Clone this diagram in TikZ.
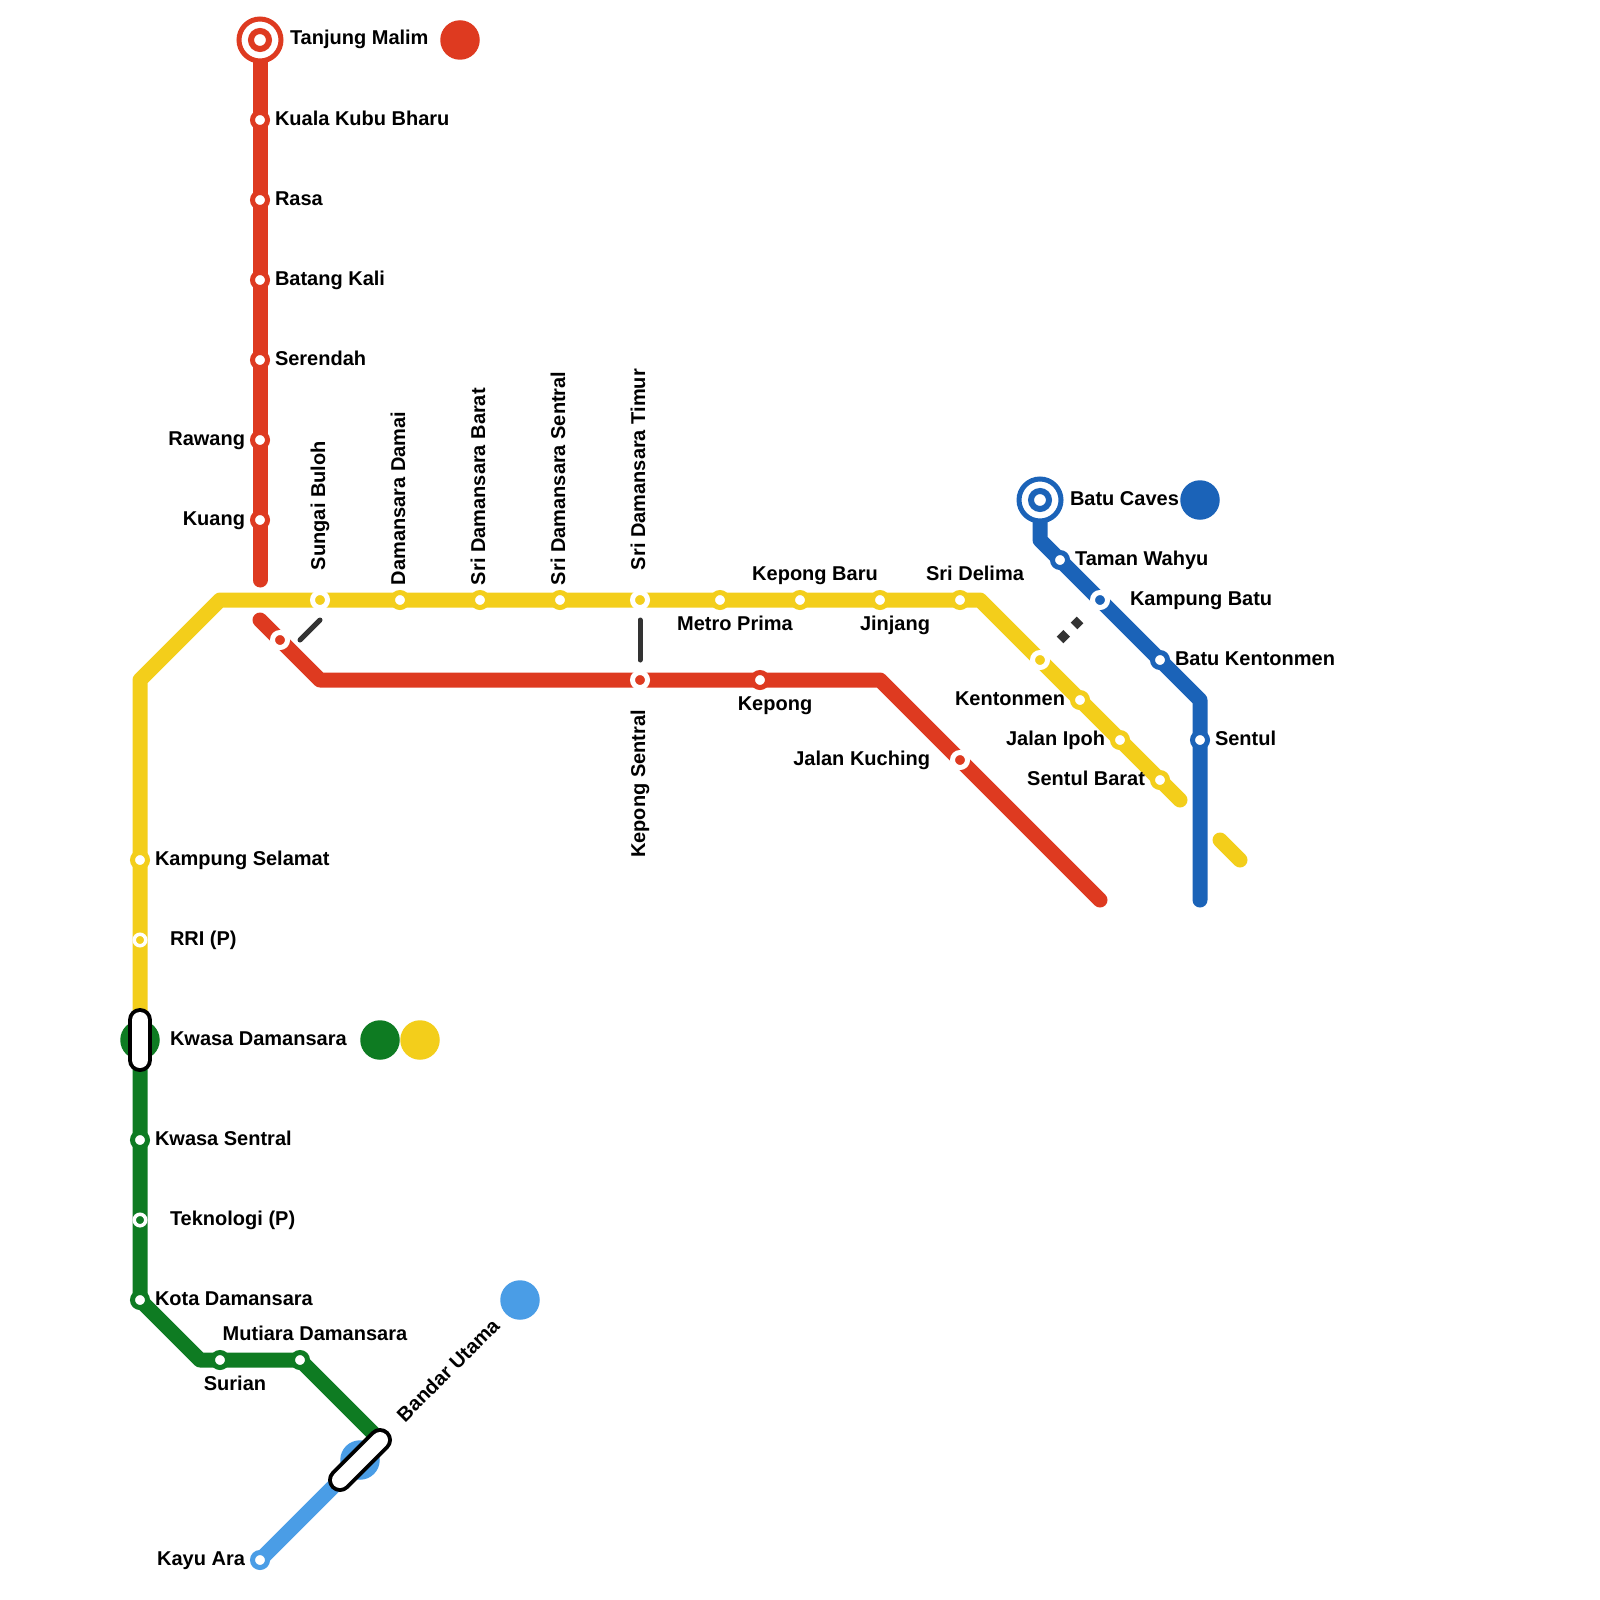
\documentclass[tikz,border=0pt]{standalone}
\usepackage{fontspec}
\setmainfont{Liberation Sans}
\definecolor{cred}{HTML}{DE3A20}
\definecolor{cyel}{HTML}{F3CE1B}
\definecolor{cgrn}{HTML}{0E7B22}
\definecolor{cblu}{HTML}{1B63B8}
\definecolor{clbl}{HTML}{4A9DE6}
\definecolor{cdrk}{HTML}{333333}
\tikzset{
  every node/.style={outer sep=0pt,inner sep=0pt},
  metro/.style={line width=15pt,line cap=round,line join=round},
  statA/.style={circle,minimum size=15pt,line width=5pt,fill=white,draw=#1},
  statB/.style={circle,minimum size=15pt,line width=5pt,draw=white,fill=#1},
  statC/.style={circle,minimum size=11.5pt,line width=3.5pt,draw=white,fill=#1},
  term/.style={circle,minimum size=42pt,line width=5pt,draw=#1,fill=white},
  termcore/.style={circle,minimum size=18pt,line width=6pt,draw=#1,fill=white},
  legend/.style={circle,minimum size=39.5pt,fill=#1},
  lab/.style={font=\fontsize{20}{22}\selectfont\bfseries,text=black},
  labw/.style={lab,anchor=base west},
  labe/.style={lab,anchor=base east},
  labc/.style={lab,anchor=base},
  walk/.style={line width=5pt,line cap=round,draw=cdrk},
  pillo/.style={line width=24pt,line cap=round,draw=black},
  pilli/.style={line width=16pt,line cap=round,draw=white},
}
\begin{document}
\begin{tikzpicture}[x=1pt,y=-1pt]
\useasboundingbox (0,0) rectangle (1600,1600);
% bend coordinates
\coordinate (r1) at (260,40); \coordinate (r2) at (260,580);
\coordinate (r3) at (260,620); \coordinate (r4) at (320,680);
\coordinate (r5) at (880,680); \coordinate (r6) at (1100,900);
\coordinate (y0) at (140,1040); \coordinate (y1) at (140,680);
\coordinate (y2) at (220,600); \coordinate (y3) at (980,600);
\coordinate (y4) at (1180,800); \coordinate (y5) at (1220,840);
\coordinate (y6) at (1240,860);
\coordinate (g0) at (140,1040); \coordinate (g1) at (140,1300);
\coordinate (g2) at (200,1360); \coordinate (g3) at (300,1360);
\coordinate (g4) at (380,1440);
\coordinate (b0) at (1040,500); \coordinate (b1) at (1040,540);
\coordinate (b2) at (1200,700); \coordinate (b3) at (1200,900);
\coordinate (l0) at (260,1560); \coordinate (l1) at (360,1460);
\coordinate (p1a) at (140,1020); \coordinate (p1b) at (140,1060);
\coordinate (p2a) at (340,1480); \coordinate (p2b) at (380,1440);
% interchange discs
\node[legend=cgrn] (hubg) at (140,1040) {};
\node[legend=clbl] (hubl) at (360,1460) {};
% lines
\draw[metro,draw=clbl] (l0) -- (l1);
\draw[metro,draw=cgrn] (g0) -- (g1) -- (g2) -- (g3) -- (g4);
\draw[metro,draw=cred] (r1) -- (r2);
\draw[metro,draw=cred] (r3) -- (r4) -- (r5) -- (r6);
\draw[metro,draw=cyel] (y0) -- (y1) -- (y2) -- (y3) -- (y4);
\draw[metro,draw=cyel] (y5) -- (y6);
\draw[metro,draw=cblu] (b0) -- (b1) -- (b2) -- (b3);
% pills
\draw[pillo] (p1a) -- (p1b);
\draw[pilli] (p1a) -- (p1b);
\draw[pillo] (p2a) -- (p2b);
\draw[pilli] (p2a) -- (p2b);
% stations: red
\node[term=cred] (tm) at (260,40) {};
\node[termcore=cred] (tmc) at (260,40) {};
\node[statA=cred] (kkb) at (260,120) {};
\node[statA=cred] (ras) at (260,200) {};
\node[statA=cred] (bat) at (260,280) {};
\node[statA=cred] (ser) at (260,360) {};
\node[statA=cred] (raw) at (260,440) {};
\node[statA=cred] (kua) at (260,520) {};
\node[statB=cred] (sbr) at (280,640) {};
\node[statB=cred] (kps) at (640,680) {};
\node[statA=cred] (kpg) at (760,680) {};
\node[statB=cred] (jkc) at (960,760) {};
% stations: yellow
\node[statB=cyel] (sbl) at (320,600) {};
\node[statA=cyel] (dmd) at (400,600) {};
\node[statA=cyel] (sdb) at (480,600) {};
\node[statA=cyel] (sds) at (560,600) {};
\node[statB=cyel] (sdt) at (640,600) {};
\node[statA=cyel] (mtp) at (720,600) {};
\node[statA=cyel] (kpb) at (800,600) {};
\node[statA=cyel] (jnj) at (880,600) {};
\node[statA=cyel] (sdl) at (960,600) {};
\node[statB=cyel] (ktm) at (1040,660) {};
\node[statA=cyel] (ktn) at (1080,700) {};
\node[statA=cyel] (jip) at (1120,740) {};
\node[statA=cyel] (stb) at (1160,780) {};
\node[statA=cyel] (ksl) at (140,860) {};
\node[statC=cyel] (rri) at (140,940) {};
% stations: green
\node[statA=cgrn] (kse) at (140,1140) {};
\node[statC=cgrn] (tek) at (140,1220) {};
\node[statA=cgrn] (kot) at (140,1300) {};
\node[statA=cgrn] (sur) at (220,1360) {};
\node[statA=cgrn] (mut) at (300,1360) {};
% stations: blue
\node[term=cblu] (bc) at (1040,500) {};
\node[termcore=cblu] (bcc) at (1040,500) {};
\node[statA=cblu] (twh) at (1060,560) {};
\node[statB=cblu] (kbt) at (1100,600) {};
\node[statA=cblu] (bkt) at (1160,660) {};
\node[statA=cblu] (stl) at (1200,740) {};
\node[statA=clbl] (kya) at (260,1560) {};
% walking links
\coordinate (w1a) at (320,620); \coordinate (w1b) at (300,640);
\coordinate (w2a) at (640,620); \coordinate (w2b) at (640,660);
\coordinate (w3a) at (1060,640); \coordinate (w3b) at (1080,620);
\draw[walk] (w1a) -- (w1b);
\draw[walk] (w2a) -- (w2b);
\draw[draw=cdrk,line width=9.5pt,dash pattern=on 9.5pt off 10.3pt] (w3a) -- (w3b);
% legend dots
\node[legend=cred] (lgr) at (460,40) {};
\node[legend=cblu] (lgb) at (1200,500) {};
\node[legend=cgrn] (lgg) at (380,1040) {};
\node[legend=cyel] (lgy) at (420,1040) {};
\node[legend=clbl] (lgl) at (520,1300) {};
% labels
\node[labw] (t1) at (290,45) {Tanjung Malim};
\node[labw] (t2) at (275,125) {Kuala Kubu Bharu};
\node[labw] (t3) at (275,205) {Rasa};
\node[labw] (t4) at (275,285) {Batang Kali};
\node[labw] (t5) at (275,365) {Serendah};
\node[labe] (t6) at (245,445) {Rawang};
\node[labe] (t7) at (245,525) {Kuang};
\node[labw,rotate=90] (t8) at (325,570) {Sungai Buloh};
\node[labw,rotate=90] (t9) at (405,585) {Damansara Damai};
\node[labw,rotate=90] (t10) at (485,585) {Sri Damansara Barat};
\node[labw,rotate=90] (t11) at (565,585) {Sri Damansara Sentral};
\node[labw,rotate=90] (t12) at (645,570) {Sri Damansara Timur};
\node[labc] (t13) at (735,630) {Metro Prima};
\node[labc] (t14) at (815,580) {Kepong Baru};
\node[labc] (t15) at (895,630) {Jinjang};
\node[labc] (t16) at (975,580) {Sri Delima};
\node[labe,rotate=90] (t17) at (645,710) {Kepong Sentral};
\node[labc] (t18) at (775,710) {Kepong};
\node[labe] (t19) at (930,765) {Jalan Kuching};
\node[labe] (t20) at (1065,705) {Kentonmen};
\node[labe] (t21) at (1105,745) {Jalan Ipoh};
\node[labe] (t22) at (1145,785) {Sentul Barat};
\node[labw] (t23) at (1070,505) {Batu Caves};
\node[labw] (t24) at (1075,565) {Taman Wahyu};
\node[labw] (t25) at (1130,605) {Kampung Batu};
\node[labw] (t26) at (1175,665) {Batu Kentonmen};
\node[labw] (t27) at (1215,745) {Sentul};
\node[labw] (t28) at (155,865) {Kampung Selamat};
\node[labw] (t29) at (170,945) {RRI (P)};
\node[labw] (t30) at (170,1045) {Kwasa Damansara};
\node[labw] (t31) at (155,1145) {Kwasa Sentral};
\node[labw] (t32) at (170,1225) {Teknologi (P)};
\node[labw] (t33) at (155,1305) {Kota Damansara};
\node[labc] (t34) at (315,1340) {Mutiara Damansara};
\node[labc] (t35) at (235,1390) {Surian};
\node[labw,rotate=45] (t36) at (405,1423) {Bandar Utama};
\node[labe] (t37) at (245,1565) {Kayu Ara};
\end{tikzpicture}
\end{document}
